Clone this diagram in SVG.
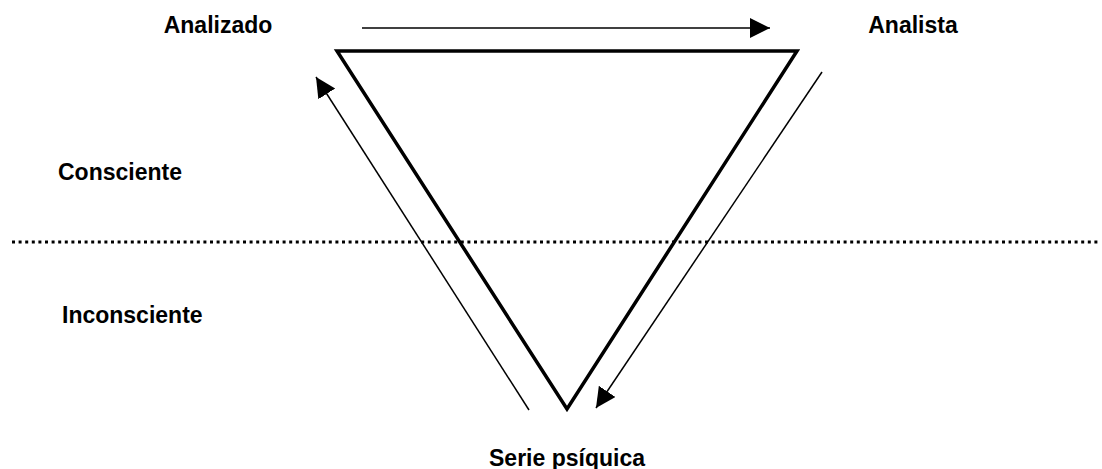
<svg xmlns="http://www.w3.org/2000/svg" width="1102" height="469" viewBox="0 0 1102 469">
<style>
text{font-family:"Liberation Sans",Arial,sans-serif;font-weight:bold;font-size:23px;fill:#000}
.arrow{stroke:#000;stroke-width:1.5;fill:none;marker-end:url(#ah)}
</style>
<defs>
<marker id="ah" markerUnits="userSpaceOnUse" markerWidth="22" markerHeight="22" viewBox="0 0 22 22" refX="20" refY="10" orient="auto">
<path d="M0,0 L20,10 L0,20 Z" fill="#000"/>
</marker>
</defs>
<rect width="1102" height="469" fill="#fff"/>
<g id="triangle">
<polygon points="337,51 797,51 567,409" fill="none" stroke="#000" stroke-width="3.5" stroke-linejoin="miter"/>
</g>
<g id="divider">
<line x1="12" y1="242" x2="1098" y2="242" stroke="#000" stroke-width="3" stroke-dasharray="3,3.6"/>
</g>
<g id="connectors">
<line class="arrow" x1="362" y1="28" x2="770" y2="28"/>
<line class="arrow" x1="529" y1="410" x2="316" y2="77"/>
<line class="arrow" x1="822" y1="72" x2="596" y2="408"/>
</g>
<g id="analizado"><text x="218" y="33" text-anchor="middle">Analizado</text></g>
<g id="analista"><text x="913" y="33" text-anchor="middle">Analista</text></g>
<g id="consciente"><text x="58" y="180">Consciente</text></g>
<g id="inconsciente"><text x="62" y="323">Inconsciente</text></g>
<g id="serie"><text x="567" y="466" text-anchor="middle">Serie psíquica</text></g>
</svg>
